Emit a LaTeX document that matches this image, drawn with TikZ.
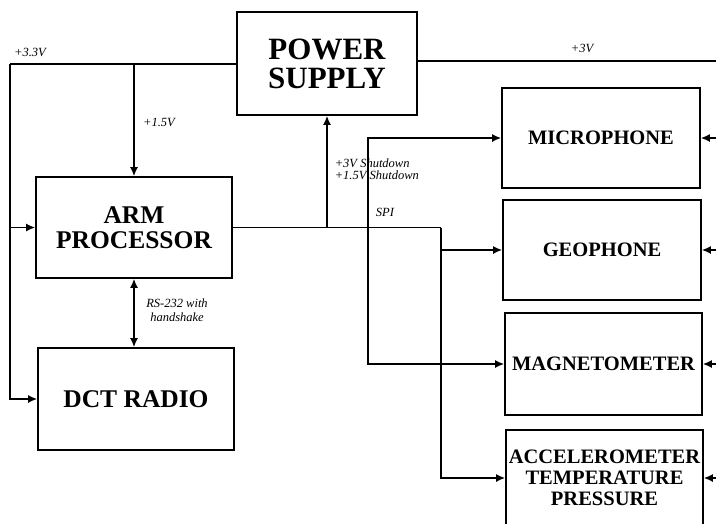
\documentclass[tikz,border=0pt]{standalone}
\usepackage{fontspec}
\setmainfont{Liberation Serif}
\usetikzlibrary{arrows.meta,positioning,calc}

\begin{document}
\begin{tikzpicture}[
  x=1pt, y=-1pt,
  line width=1.6pt,
  blk/.style={draw, rectangle, inner sep=0pt, align=center, font=\bfseries},
  big/.style={font=\fontsize{31}{29}\selectfont\bfseries},
  mid/.style={font=\fontsize{25.5}{25}\selectfont\bfseries},
  sen/.style={font=\fontsize{20.5}{21}\selectfont\bfseries},
  lbl/.style={inner sep=0pt, font=\fontsize{12.5}{13}\selectfont\itshape},
  acc/.style={-{Latex[length=9pt,width=8pt]}},
  bidir/.style={{Latex[length=9pt,width=8pt]}-{Latex[length=9pt,width=8pt]}}
]
\useasboundingbox (0,0) rectangle (716,523);
% blocks
\node[blk, big, minimum width=180pt, minimum height=103pt] (ps)  at (327,63.5)  {POWER\\SUPPLY};
\node[blk, mid, minimum width=196pt, minimum height=101pt] (arm) at (134,227.5) {ARM\\PROCESSOR};
\node[blk, mid, minimum width=196pt, minimum height=102pt] (dct) at (136,399)   {DCT RADIO};
\node[blk, sen, minimum width=198pt, minimum height=100pt] (mic) at (601,138)   {MICROPHONE};
\node[blk, sen, minimum width=198pt, minimum height=100pt] (geo) at (602,250)   {GEOPHONE};
\node[blk, sen, minimum width=197pt, minimum height=102pt] (mag) at (603.5,364) {MAGNETOMETER};
\node[blk, sen, minimum width=197pt, minimum height=96pt]  (acl) at (604.5,478) {ACCELEROMETER\\TEMPERATURE\\PRESSURE};
% junctions
\coordinate (l33) at (10,64);
\coordinate (r3)  at (716,61);
\coordinate (sa)  at (368,227.5);
\coordinate (sb)  at (441,227.5);
% supply lines
\draw (ps.west |- l33) -- (l33);
\draw[acc] (l33) |- (dct.west);
\draw[acc] (l33 |- arm.west) -- (arm.west);
\draw[acc] (arm.north |- l33) -- (arm.north);
\draw (ps.east |- r3) -- (r3);
\foreach \s in {mic,geo,mag,acl}
  \draw[acc] (\s.east -| r3) -- (\s.east);
% data lines
\draw[bidir] (arm.south) -- (arm.south |- dct.north);
\draw (arm.east) -- (sb);
\draw[acc] (ps.south |- arm.east) -- (ps.south);
\draw[acc] (sa) |- (mic.west);
\draw[acc] (sa) |- (mag.west);
\draw[acc] (sb |- geo.west) -- (geo.west);
\draw[acc] (sb) |- (acl.west);
% labels
\node[lbl] (t33) at (30,52)   {+3.3V};
\node[lbl] (t15) at (159,122) {+1.5V};
\node[lbl] (t3)  at (582,48)  {+3V};
\node[lbl, anchor=west, align=left, font=\fontsize{12.5}{12}\selectfont\itshape] (tsd) at (334,169) {+3V Shutdown\\+1.5V Shutdown};
\node[lbl] (tspi) at (385,212) {SPI};
\node[lbl, align=center, font=\fontsize{12.5}{14}\selectfont\itshape] (trs) at (177,310) {RS-232 with\\handshake};
\end{tikzpicture}
\end{document}
